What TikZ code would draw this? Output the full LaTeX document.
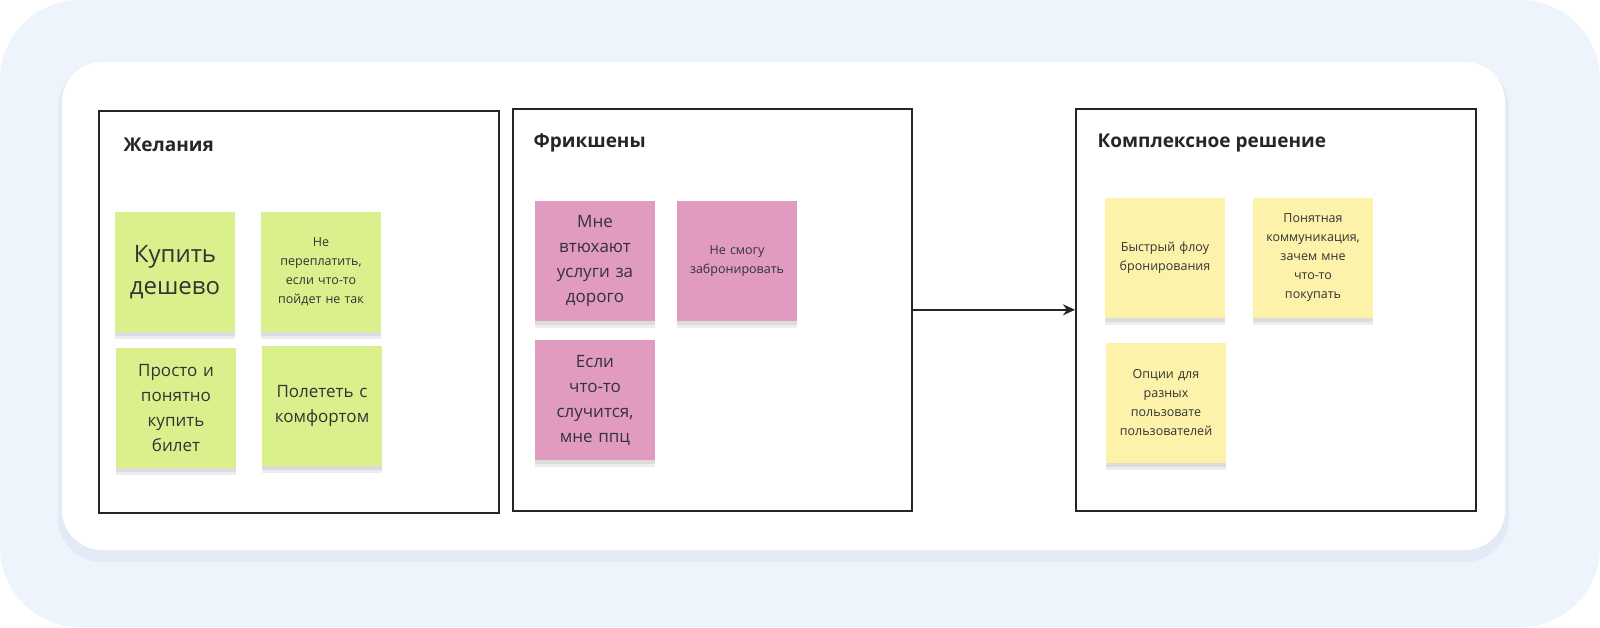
\documentclass[tikz,border=0pt]{standalone}
\usepackage{fontspec}
\setmainfont{Open Sans}
\usetikzlibrary{shadows,arrows.meta}
\definecolor{bgout}{HTML}{EEF4FC}
\definecolor{sgreen}{HTML}{D9F08C}
\definecolor{spink}{HTML}{E19BC0}
\definecolor{syellow}{HTML}{FCF2AA}
\begin{document}
\begin{tikzpicture}[x=1pt,y=-1pt,
  frame/.style={draw=black!85,line width=1.6pt},
  title/.style={anchor=west,font=\fontsize{19}{22}\selectfont\bfseries,text=black!85},
  sticky/.style={minimum width=120pt,minimum height=120pt,inner sep=2pt,align=center,text width=112pt,
     text=black!80,
     preaction={fill=black,opacity=0.07,transform canvas={yshift=-7pt}},
     preaction={fill=black,opacity=0.07,transform canvas={yshift=-4pt,xscale=1}}},
  big/.style={font=\fontsize{24}{32}\selectfont},
  mid/.style={font=\fontsize{17}{25}\selectfont},
  sm/.style={font=\fontsize{12.5}{19}\selectfont},
  arr/.style={-{Stealth[length=12pt,width=11pt]},line width=1.6pt,black!85}]
\useasboundingbox (0,0) rectangle (1600,627);
\fill[white] (0,0) rectangle (1600,627);
\fill[bgout,rounded corners=80pt] (0,0) rectangle (1600,627);
\fill[blue!30!black,opacity=0.04,rounded corners=44pt] (58,64) rectangle (1509,562);
\fill[white,rounded corners=40pt] (62,62) rectangle (1505,550);
% frames
\node[frame,minimum width=400pt,minimum height=402pt,anchor=north west] (f1) at (98,110) {};
\node[frame,minimum width=399pt,minimum height=402pt,anchor=north west] (f2) at (512,108) {};
\node[frame,minimum width=400pt,minimum height=402pt,anchor=north west] (f3) at (1075,108) {};
\node[title] (t1) at (120,145) {Желания};
\node[title] (t2) at (530,143) {Фрикшены};
\node[title] (t3) at (1094,143) {Комплексное решение};
% green
\node[sticky,fill=sgreen,big] (g1) at (175,272) {Купить\\дешево};
\node[sticky,fill=sgreen,sm] (g2) at (321,272) {Не\\переплатить,\\если что-то\\пойдет не так};
\node[sticky,fill=sgreen,mid] (g3) at (176,408) {Просто и\\понятно\\купить\\билет};
\node[sticky,fill=sgreen,mid] (g4) at (322,406) {Полететь с\\комфортом};
% pink
\node[sticky,fill=spink,mid] (p1) at (595,261) {Мне\\втюхают\\услуги за\\дорого};
\node[sticky,fill=spink,sm] (p2) at (737,261) {Не смогу\\забронировать};
\node[sticky,fill=spink,mid] (p3) at (595,400) {Если\\что-то\\случится,\\мне ппц};
% yellow
\node[sticky,fill=syellow,sm] (y1) at (1165,258) {Быстрый флоу\\бронирования};
\node[sticky,fill=syellow,sm] (y2) at (1313,258) {Понятная\\коммуникация,\\зачем мне\\что-то\\покупать};
\node[sticky,fill=syellow,sm] (y3) at (1166,403) {Опции для\\разных\\пользовате\\пользователей};
\draw[arr] (f2.east) -- (f3.west);
\end{tikzpicture}
\end{document}
